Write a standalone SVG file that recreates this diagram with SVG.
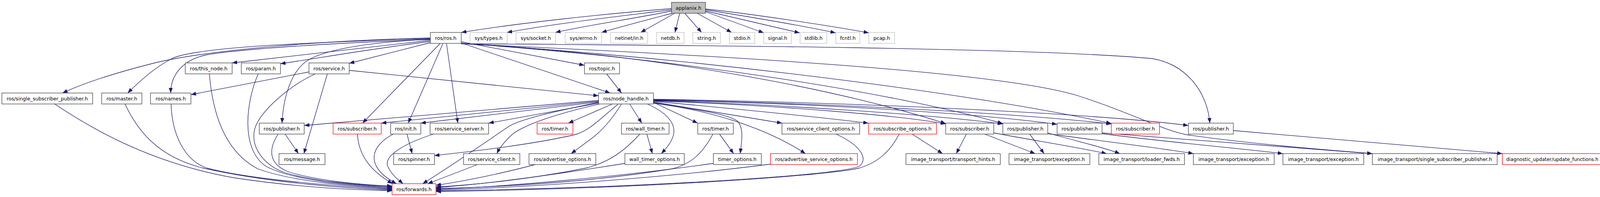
<svg xmlns="http://www.w3.org/2000/svg" width="4131" height="504" viewBox="0 0 4131 504">
<defs>
<marker id="a" markerWidth="14" markerHeight="10" refX="13" refY="5" orient="auto" markerUnits="userSpaceOnUse"><path d="M0,0 L13,5 L0,10 z" fill="#191970"/></marker>
<style>
.n rect{fill:#fff;stroke:#404040;stroke-width:1.3}
.g rect{fill:#fff;stroke:#bfbfbf;stroke-width:1.3}
.r rect{fill:#fff;stroke:#ff0000;stroke-width:1.3}
.top rect{fill:#bfbfbf;stroke:#404040;stroke-width:1.3}
text{font-family:"DejaVu Sans","Liberation Sans",sans-serif;font-size:12.6px;text-anchor:middle;fill:#000}
#edges path{fill:none;stroke:#191970;stroke-width:1.3;marker-end:url(#a)}
</style>
</defs>
<rect width="4131" height="504" fill="#fff"/>
<g id="edges">
<path d="M1719,22 C1550,35 1320,60 1181,83"/>
<path d="M1719,25 C1600,40 1420,60 1298,83"/>
<path d="M1719,28 C1640,45 1500,65 1422,83"/>
<path d="M1721,34 C1660,50 1590,68 1540,83"/>
<path d="M1727,34 L1640,83"/>
<path d="M1740,34 L1728,83"/>
<path d="M1753,34 L1796,83"/>
<path d="M1785,34 L1873,83"/>
<path d="M1806,30 L1955,84"/>
<path d="M1806,28 L2047,84"/>
<path d="M1806,25 C1900,40 2050,65 2139,84"/>
<path d="M1806,23 C1920,35 2120,65 2224,84"/>
<path d="M1102,97 C850,103 550,125 400,160 C300,185 220,210 160,238"/>
<path d="M1102,99 C800,108 500,120 440,150 C400,170 360,205 327,238"/>
<path d="M1102,101 C850,110 620,125 530,140 C470,152 437,190 437,238"/>
<path d="M1102,103 C900,125 700,148 594,161"/>
<path d="M1102,106 C950,125 820,148 718,163"/>
<path d="M1102,109 L894,162"/>
<path d="M1102,100 C950,108 840,125 790,153 C745,180 725,250 722,315"/>
<path d="M1127,111 L928,315"/>
<path d="M1134,111 L1045,315"/>
<path d="M1143,111 L1172,315"/>
<path d="M1181,107 L1496,167"/>
<path d="M1181,110 L1562,238"/>
<path d="M1181,112 C1800,116 2650,122 2950,150 C3040,165 3092,240 3097,315"/>
<path d="M1181,111 C1700,140 2150,230 2421,316"/>
<path d="M1181,111 C1750,150 2300,240 2567,316"/>
<path d="M1181,111 C1800,150 2500,240 2845,316"/>
<path d="M1181,112 C1800,140 2550,180 2760,245 C2900,290 2980,335 3040,345 C3200,368 3400,384 3513,393"/>
<path d="M1532,262 C1420,285 1330,305 1300,325 C1220,380 1130,440 1082,470"/>
<path d="M1532,257 L779,321"/>
<path d="M1532,259 L976,315"/>
<path d="M1532,261 L1077,315"/>
<path d="M1532,264 L1251,315"/>
<path d="M1583,266 C1540,300 1510,335 1470,345 C1350,372 1200,388 1112,398"/>
<path d="M1535,266 C1420,292 1340,320 1310,345 C1292,362 1279,378 1272,393"/>
<path d="M1568,266 L1455,315"/>
<path d="M1591,266 C1570,300 1545,330 1520,350 C1500,365 1480,380 1462,393"/>
<path d="M1612,266 L1643,315"/>
<path d="M1657,266 C1700,285 1728,310 1725,340 C1722,362 1705,380 1693,393"/>
<path d="M1673,262 L1786,315"/>
<path d="M1673,263 C1780,280 1870,292 1890,312 C1905,332 1898,365 1895,393"/>
<path d="M1673,261 L2002,315"/>
<path d="M1673,264 C1800,280 1950,320 2062,393"/>
<path d="M1673,259 C1900,280 2100,300 2223,315"/>
<path d="M1673,258 C2000,270 2300,295 2421,317"/>
<path d="M1673,257 C2050,270 2400,295 2567,317"/>
<path d="M1673,256 C2100,265 2500,290 2706,318"/>
<path d="M1673,255 C2150,265 2600,290 2845,317"/>
<path d="M1673,254 C2200,262 2800,290 3042,321"/>
<path d="M140,266 C250,340 400,420 600,455 C800,485 950,486 1004,488"/>
<path d="M320,266 C350,330 400,400 520,430 C700,470 900,482 1004,486"/>
<path d="M438,266 C440,340 470,410 530,430 C650,462 900,478 1004,484"/>
<path d="M536,189 C545,300 580,390 660,432 C760,468 920,477 1004,482"/>
<path d="M661,189 C630,260 615,380 680,425 C760,468 940,475 1004,480"/>
<path d="M807,189 C740,220 665,285 652,330 C640,380 680,425 730,442 C820,468 950,474 1004,478"/>
<path d="M791,184 L489,242"/>
<path d="M838,189 L778,393"/>
<path d="M894,180 L1532,245"/>
<path d="M1553,189 L1591,238"/>
<path d="M730,343 L764,393"/>
<path d="M712,343 C688,380 685,420 740,440 C820,465 950,474 1004,476"/>
<path d="M915,343 C918,395 945,435 1005,470"/>
<path d="M1042,343 L1055,393"/>
<path d="M1007,343 C950,372 930,425 1015,470"/>
<path d="M1110,343 C1040,365 975,400 995,430 C1005,450 1020,460 1032,470"/>
<path d="M1222,421 L1095,470"/>
<path d="M1370,421 C1280,445 1180,465 1116,474"/>
<path d="M1638,343 C1600,385 1560,415 1500,430 C1350,460 1200,474 1116,478"/>
<path d="M1656,343 L1670,393"/>
<path d="M1600,418 C1400,450 1250,470 1116,480"/>
<path d="M1842,343 L1878,393"/>
<path d="M1825,343 C1800,390 1770,420 1720,432 C1500,468 1250,480 1116,482"/>
<path d="M1826,418 C1600,450 1300,478 1116,484"/>
<path d="M1972,420 C1700,455 1350,480 1116,486"/>
<path d="M2140,343 C2200,370 2225,405 2200,425 C2150,450 1600,482 1116,488"/>
<path d="M2302,343 C2280,385 2250,415 2200,430 C2100,452 1600,484 1116,490"/>
<path d="M2335,343 L2413,393"/>
<path d="M2474,343 L2448,393"/>
<path d="M2521,343 L2650,393"/>
<path d="M2636,343 L2673,393"/>
<path d="M2544,340 C2650,360 2750,375 2833,393"/>
<path d="M2682,340 C2750,360 2820,375 2867,393"/>
<path d="M2682,342 C2850,365 2980,380 3055,393"/>
<path d="M2821,342 C3000,365 3180,380 3284,393"/>
<path d="M2821,340 C3100,360 3350,380 3513,393"/>
<path d="M3157,334 C3450,360 3700,380 3846,393"/>
</g>
<g id="n0" class="top"><rect x="1719" y="6" width="87" height="28"/><text x="1762.5" y="24.5">applanix.h</text></g>
<g id="n1" class="n"><rect x="1101.7" y="83" width="79" height="28"/><text x="1141.2" y="101.5">ros/ros.h</text></g>
<g id="n2" class="g"><rect x="1203.3" y="83" width="95" height="28"/><text x="1250.8" y="101.5">sys/types.h</text></g>
<g id="n3" class="g"><rect x="1321" y="83" width="101.3" height="28"/><text x="1371.7" y="101.5">sys/socket.h</text></g>
<g id="n4" class="g"><rect x="1446.7" y="83" width="93.3" height="28"/><text x="1493.3" y="101.5">sys/errno.h</text></g>
<g id="n5" class="g"><rect x="1563.3" y="83" width="94.7" height="28"/><text x="1610.7" y="101.5">netinet/in.h</text></g>
<g id="n6" class="g"><rect x="1680.7" y="83" width="70.6" height="28"/><text x="1716" y="101.5">netdb.h</text></g>
<g id="n7" class="g"><rect x="1773.7" y="83" width="70.6" height="28"/><text x="1809" y="101.5">string.h</text></g>
<g id="n8" class="g"><rect x="1867.3" y="83" width="65" height="28"/><text x="1899.8" y="101.5">stdio.h</text></g>
<g id="n9" class="g"><rect x="1955" y="83" width="71" height="28"/><text x="1990.5" y="101.5">signal.h</text></g>
<g id="n10" class="g"><rect x="2048.3" y="83" width="68.4" height="28"/><text x="2082.5" y="101.5">stdlib.h</text></g>
<g id="n11" class="g"><rect x="2139.7" y="83" width="61.6" height="28"/><text x="2170.5" y="101.5">fcntl.h</text></g>
<g id="n12" class="g"><rect x="2224.3" y="83" width="66" height="28"/><text x="2257.3" y="101.5">pcap.h</text></g>
<g id="n13" class="n"><rect x="474.3" y="161" width="120" height="28"/><text x="534.3" y="179.5">ros/this_node.h</text></g>
<g id="n14" class="n"><rect x="617.7" y="161" width="100.3" height="28"/><text x="667.8" y="179.5">ros/param.h</text></g>
<g id="n15" class="n"><rect x="791" y="161" width="103" height="28"/><text x="842.5" y="179.5">ros/service.h</text></g>
<g id="n16" class="n"><rect x="1496.3" y="161" width="89.7" height="28"/><text x="1541.2" y="179.5">ros/topic.h</text></g>
<g id="n17" class="n"><rect x="4.7" y="238" width="232.6" height="28"/><text x="121" y="256.5">ros/single_subscriber_publisher.h</text></g>
<g id="n18" class="n"><rect x="260.3" y="238" width="103" height="28"/><text x="311.8" y="256.5">ros/master.h</text></g>
<g id="n19" class="n"><rect x="385.3" y="238" width="103.4" height="28"/><text x="437" y="256.5">ros/names.h</text></g>
<g id="n20" class="n"><rect x="1532.3" y="238" width="140.4" height="28"/><text x="1602.5" y="256.5">ros/node_handle.h</text></g>
<g id="n21" class="n"><rect x="663.7" y="315" width="115" height="28"/><text x="721.2" y="333.5">ros/publisher.h</text></g>
<g id="n22" class="r"><rect x="852.7" y="315" width="123.3" height="28"/><text x="914.3" y="333.5">ros/subscriber.h</text></g>
<g id="n23" class="n"><rect x="1000" y="315" width="77.3" height="28"/><text x="1038.7" y="333.5">ros/init.h</text></g>
<g id="n24" class="n"><rect x="1101" y="315" width="149.7" height="28"/><text x="1175.8" y="333.5">ros/service_server.h</text></g>
<g id="n25" class="r"><rect x="1375" y="315" width="91.7" height="28"/><text x="1420.8" y="333.5">ros/timer.h</text></g>
<g id="n26" class="n"><rect x="1591" y="315" width="121.7" height="28"/><text x="1651.8" y="333.5">ros/wall_timer.h</text></g>
<g id="n27" class="n"><rect x="1786.3" y="315" width="91" height="28"/><text x="1831.8" y="333.5">ros/timer.h</text></g>
<g id="n28" class="n"><rect x="2001.7" y="315" width="199" height="28"/><text x="2101.2" y="333.5">ros/service_client_options.h</text></g>
<g id="n29" class="r"><rect x="2223.7" y="315" width="173.6" height="28"/><text x="2310.5" y="333.5">ros/subscribe_options.h</text></g>
<g id="n30" class="n"><rect x="2421" y="315" width="123" height="28"/><text x="2482.5" y="333.5">ros/subscriber.h</text></g>
<g id="n31" class="n"><rect x="2567.3" y="315" width="115" height="28"/><text x="2624.8" y="333.5">ros/publisher.h</text></g>
<g id="n32" class="n"><rect x="2706.3" y="315" width="115" height="28"/><text x="2763.8" y="333.5">ros/publisher.h</text></g>
<g id="n33" class="r"><rect x="2845" y="315" width="123.3" height="28"/><text x="2906.7" y="333.5">ros/subscriber.h</text></g>
<g id="n34" class="n"><rect x="3042.3" y="315" width="115" height="28"/><text x="3099.8" y="333.5">ros/publisher.h</text></g>
<g id="n35" class="n"><rect x="714.3" y="393" width="117.7" height="28"/><text x="773.2" y="411.5">ros/message.h</text></g>
<g id="n36" class="n"><rect x="1007.7" y="393" width="104.6" height="28"/><text x="1060" y="411.5">ros/spinner.h</text></g>
<g id="n37" class="n"><rect x="1186.7" y="393" width="144" height="28"/><text x="1258.7" y="411.5">ros/service_client.h</text></g>
<g id="n38" class="n"><rect x="1354.3" y="393" width="171" height="28"/><text x="1439.8" y="411.5">ros/advertise_options.h</text></g>
<g id="n39" class="n"><rect x="1599.7" y="393" width="152" height="28"/><text x="1675.7" y="411.5">wall_timer_options.h</text></g>
<g id="n40" class="n"><rect x="1826.3" y="393" width="122.7" height="28"/><text x="1887.7" y="411.5">timer_options.h</text></g>
<g id="n41" class="r"><rect x="1972.3" y="393" width="222.7" height="28"/><text x="2083.7" y="411.5">ros/advertise_service_options.h</text></g>
<g id="n42" class="n"><rect x="2319.3" y="393" width="241.4" height="28"/><text x="2440" y="411.5">image_transport/transport_hints.h</text></g>
<g id="n43" class="n"><rect x="2583" y="393" width="207" height="28"/><text x="2686.5" y="411.5">image_transport/exception.h</text></g>
<g id="n44" class="n"><rect x="2813" y="393" width="219.3" height="28"/><text x="2922.7" y="411.5">image_transport/loader_fwds.h</text></g>
<g id="n45" class="n"><rect x="3055" y="393" width="207" height="28"/><text x="3158.5" y="411.5">image_transport/exception.h</text></g>
<g id="n46" class="n"><rect x="3284.3" y="393" width="207" height="28"/><text x="3387.8" y="411.5">image_transport/exception.h</text></g>
<g id="n47" class="n"><rect x="3513.3" y="393" width="319.4" height="28"/><text x="3673" y="411.5">image_transport/single_subscriber_publisher.h</text></g>
<g id="n48" class="r"><rect x="3846" y="393" width="256" height="28"/><text x="3974" y="411.5" style="font-size:12.1px">diagnostic_updater/update_functions.h</text></g>
<g id="n49" class="r"><rect x="1003.7" y="470" width="112.3" height="28"/><text x="1059.8" y="488.5">ros/forwards.h</text></g>
</svg>
